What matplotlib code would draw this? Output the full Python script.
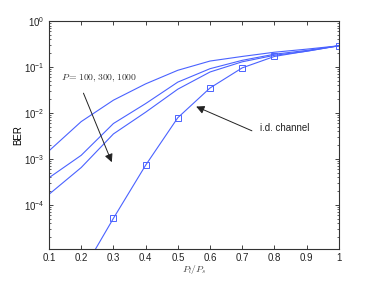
import matplotlib
matplotlib.use("Agg")
import matplotlib.pyplot as plt
from matplotlib.ticker import LogLocator, NullFormatter

plt.rcParams['mathtext.fontset'] = 'cm'
plt.rcParams['font.family'] = ['Liberation Sans', 'DejaVu Sans']

x = [0.1, 0.2, 0.3, 0.4, 0.5, 0.6, 0.7, 0.8, 0.9, 1.0]
ber_p100 = [1.5e-3, 6.5e-3, 0.019, 0.043, 0.085, 0.135, 0.17, 0.21, 0.245, 0.29]
ber_p300 = [3.9e-4, 1.2e-3, 5.9e-3, 0.016, 0.047, 0.092, 0.14, 0.19, 0.23, 0.29]
ber_p1000 = [1.7e-4, 6.5e-4, 3.5e-3, 0.0104, 0.033, 0.078, 0.13, 0.18, 0.22, 0.29]

x_id = [0.2, 0.3, 0.4, 0.5, 0.6, 0.7, 0.8, 1.0]
ber_id = [3.2e-6, 5.1e-5, 7.3e-4, 7.9e-3, 0.035, 0.096, 0.17, 0.29]

xticks = [0.1, 0.2, 0.3, 0.4, 0.5, 0.6, 0.7, 0.8, 0.9, 1.0]
xticklabels = ["0.1", "0.2", "0.3", "0.4", "0.5", "0.6", "0.7", "0.8", "0.9", "1"]

color = '#4a62ff'

fig = plt.figure(figsize=(3.74, 2.81), dpi=100)
ax = fig.add_axes([0.131, 0.114, 0.775, 0.811])

for y in (ber_p100, ber_p300, ber_p1000):
    ax.semilogy(x, y, color=color, lw=0.8)
ax.semilogy(x_id, ber_id, color=color, lw=0.8, marker='s', ms=4,
            mfc='none', mec=color, mew=0.7)

ax.set_xlim(0.1, 1.0)
ax.set_ylim(1.1e-5, 1)
ax.set_xticks(xticks)
ax.set_xticklabels(xticklabels)
ax.yaxis.set_minor_locator(LogLocator(base=10, subs=range(2, 10), numticks=20))
ax.yaxis.set_minor_formatter(NullFormatter())
ax.set_yticks([1e-4, 1e-3, 1e-2, 1e-1, 1e0])

ax.tick_params(which='both', direction='in', top=True, right=True,
               labelsize=7, colors='#222222', pad=3)
ax.tick_params(which='major', length=3, width=0.6)
ax.tick_params(which='minor', length=1.5, width=0.5)
for s in ax.spines.values():
    s.set_linewidth(0.8)
    s.set_color('#333333')

ax.set_xlabel(r'$P_l/P_s$', fontsize=7, color='#444444', labelpad=0)
ax.set_ylabel('BER', fontsize=7, labelpad=1)

ax.text(0.138, 0.058, r'$P = 100, 300, 1000$', fontsize=7, color='#333333',
        va='center')
ax.annotate('', xy=(0.295, 8.5e-4), xytext=(0.207, 0.027),
            arrowprops=dict(arrowstyle='-|>', color='#222222', lw=0.7,
                            mutation_scale=12, shrinkA=0, shrinkB=0))
ax.text(0.755, 4.6e-3, 'i.d. channel', fontsize=7, color='#222222',
        va='center')
ax.annotate('', xy=(0.557, 0.0138), xytext=(0.73, 4.1e-3),
            arrowprops=dict(arrowstyle='-|>', color='#222222', lw=0.7,
                            mutation_scale=12, shrinkA=0, shrinkB=0))

fig.savefig('out.png', dpi=100)
